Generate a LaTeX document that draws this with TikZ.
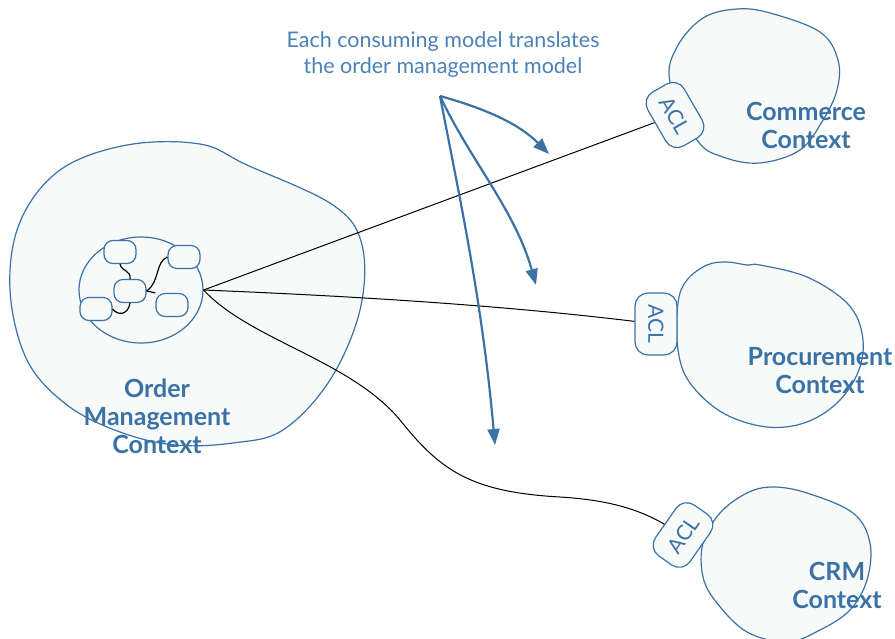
\documentclass[tikz,border=0pt]{standalone}
\usepackage{fontspec}
\setmainfont{Lato}
\usetikzlibrary{shapes.geometric,arrows.meta}
\definecolor{bl}{HTML}{3A72A6}
\definecolor{tbl}{HTML}{4A82B8}
\definecolor{bgf}{HTML}{F8FAFA}
\begin{document}
\begin{tikzpicture}[x=1pt,y=-1pt,
 blob/.style={draw=bl,fill=bgf,line width=1.2pt},
 ctx/.style={text=bl,font=\fontsize{25}{28}\selectfont\bfseries,align=center,inner sep=0pt},
 acl/.style={draw=bl,fill=bgf,line width=1.2pt,rounded corners=13pt,minimum width=62pt,minimum height=42pt,text=bl,font=\fontsize{21}{22}\selectfont,inner sep=0pt},
 smallbox/.style={draw=bl,fill=bgf,line width=1.2pt,rounded corners=9pt,minimum width=32pt,minimum height=23pt,inner sep=0pt},
 conn/.style={draw=black,line width=1pt},
 wire/.style={draw=black,line width=1.2pt},
 ann/.style={draw=bl,line width=2.2pt,-{Triangle[length=16pt,width=12pt]}}]
\useasboundingbox (0,0) rectangle (895,638);

% Order management blob
\draw[blob] plot[smooth cycle, tension=0.6] coordinates {(60,170) (127,145) (200,144) (247,165) (333,205) (362,245) (360,310) (330,380) (283,430) (233,443) (175,445) (120,432) (67,405) (27,360) (10,290) (20,222)};
\node[draw=bl,fill=bgf,line width=1.2pt,ellipse,minimum width=124pt,minimum height=106pt,inner sep=0pt] (inner) at (141,290) {};
\node[smallbox] (ba) at (120,252) {};
\node[smallbox] (bb) at (184,257) {};
\node[smallbox] (bc) at (130,291) {};
\node[smallbox] (bd) at (96,309) {};
\node[smallbox] (be) at (172,305) {};
\draw[wire] (ba.south) .. controls (122,272) and (131,270) .. (bc.north);
\draw[wire] (bc.east) .. controls (160,282) and (155,262) .. (bb.west);
\draw[wire] (bc.east) -- (be.north west);
\draw[wire] (bc.south) .. controls (128,315) and (118,316) .. (bd.east);
\node[ctx] (omlabel) at (157,416) {Order\\Management\\Context};

% Commerce
\draw[blob] plot[smooth cycle, tension=0.6] coordinates {(670,82) (677,47) (703,18) (737,9) (770,13) (820,32) (838,60) (837,90) (823,120) (800,150) (760,163) (723,157) (697,140)};
\node[acl,rotate=-60] (aclc) at (675,115) {ACL};
\node[ctx] (comlabel) at (806,125) {Commerce\\Context};

% Procurement
\draw[blob] plot[smooth cycle, tension=0.6] coordinates {(678,303) (687,280) (707,265) (727,262) (747,265) (760,265) (807,277) (847,303) (862,333) (860,367) (840,400) (807,422) (767,427) (723,413) (690,383) (678,350)};
\node[acl,rotate=-90] (aclp) at (656,324) {ACL};
\node[ctx] (prolabel) at (820,371) {Procurement\\Context};

% CRM
\draw[blob] plot[smooth cycle, tension=0.6] coordinates {(703,543) (720,513) (747,493) (773,487) (807,493) (853,513) (870,543) (867,580) (850,610) (820,630) (787,642) (747,632) (717,603) (703,577)};
\node[acl,rotate=55] (aclr) at (683,535) {ACL};
\node[ctx] (crmlabel) at (837,585) {CRM\\Context};

% connectors
\draw[conn] (inner.east) -- (aclc);
\draw[conn] (inner.east) .. controls (350,296) and (500,305) .. (aclp);
\draw[conn] (inner.east) .. controls (250,340) and (350,360) .. (400,420) .. controls (440,470) and (470,492) .. (560,497) .. controls (610,500) and (640,510) .. (aclr);

% annotation
\node[text=tbl,font=\fontsize{21.5}{26}\selectfont,align=center] (note) at (443,55) {Each consuming model translates\\the order management model};
\coordinate (src) at (440,96);
\coordinate (t1) at (549,154);
\coordinate (t2) at (536,285);
\coordinate (t3) at (495,445);
\draw[ann] (src) .. controls (490,110) and (520,125) .. (t1);
\draw[ann] (src) .. controls (470,160) and (515,210) .. (t2);
\draw[ann] (src) .. controls (460,200) and (482,300) .. (t3);
\end{tikzpicture}
\end{document}
